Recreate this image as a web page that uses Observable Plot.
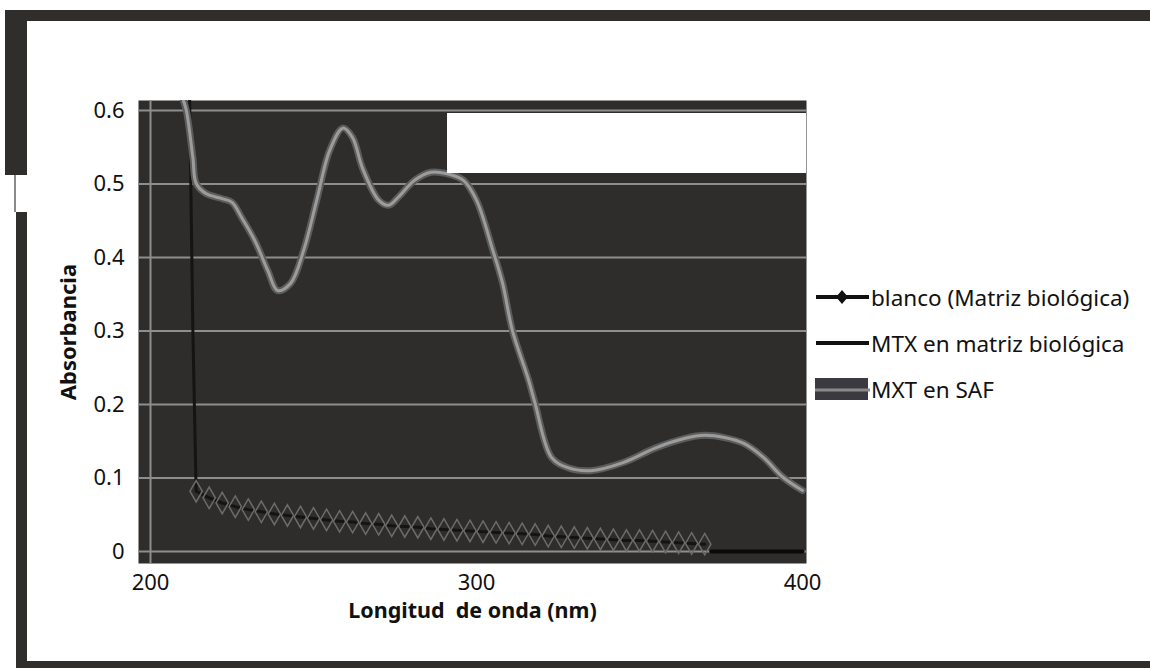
<!DOCTYPE html>
<html>
<head>
<meta charset="utf-8">
<script src="https://cdn.jsdelivr.net/npm/d3@7"></script>
<script src="https://cdn.jsdelivr.net/npm/@observablehq/plot@0.6"></script>
<style>
html, body { margin: 0; padding: 0; background: #fff; }
#wrap { position: relative; width: 1150px; height: 668px; overflow: hidden; font-family: "Noto Sans", sans-serif; }
.bd { position: absolute; background: #2f2e2d; }
#chart { position: absolute; left: 0; top: 0; }
#notch { position: absolute; left: 447px; top: 113px; width: 359px; height: 60px; background: #fff; }
#legend { position: absolute; left: 815px; top: 282px; font-size: 22.5px; color: #111; }
.lg { display: flex; align-items: center; height: 30px; margin-bottom: 16px; white-space: nowrap; }
.lg svg { display: block; margin-right: 1px; }
#chart g[aria-label="x-axis label"] text, #chart g[aria-label="y-axis label"] text { font-weight: bold; font-size: 21.5px; white-space: pre; }
#chart g[aria-label="y-axis label"] text { font-size: 22px; }
</style>
</head>
<body>
<div id="wrap">
  <div id="chart"></div>
  <div id="notch"></div>
  <div class="bd" style="left:5px;top:10px;width:1145px;height:11px;"></div>
  <div class="bd" style="left:5px;top:10px;width:22px;height:165px;"></div>
  <div style="position:absolute;left:14px;top:175px;width:2px;height:37px;background:#8a8a8a;"></div>
  <div class="bd" style="left:16px;top:212px;width:11px;height:456px;"></div>
  <div class="bd" style="left:16px;top:661px;width:1134px;height:7px;"></div>
  <div id="legend">
    <div class="lg"><svg width="55" height="20"><line x1="1" y1="10" x2="54" y2="10" stroke="#111" stroke-width="4"/><path d="M27 3 L33 10 L27 17 L21 10 Z" fill="#111"/></svg><span>blanco (Matriz biológica)</span></div>
    <div class="lg"><svg width="55" height="20"><line x1="1" y1="10" x2="54" y2="10" stroke="#111" stroke-width="4"/><rect x="22" y="8" width="10" height="4" fill="#111"/></svg><span>MTX en matriz biológica</span></div>
    <div class="lg"><svg width="55" height="22"><rect x="0" y="0" width="53" height="22" fill="#3a3a40"/><line x1="0" y1="12" x2="55" y2="12" stroke="#8a8a8a" stroke-width="3"/></svg><span>MXT en SAF</span></div>
  </div>
</div>
<script>
// X ticks and Y ticks
const xTicks = [200, 300, 400];
const yTicks = [0, 0.1, 0.2, 0.3, 0.4, 0.5, 0.6];
const yTickLabels = ["0", "0.1", "0.2", "0.3", "0.4", "0.5", "0.6"];

// MXT en SAF
const safWavelength = [210, 211, 213, 214, 217, 222, 225, 228, 232, 236, 239, 243, 247, 251, 255, 259, 262, 265, 270, 273, 276, 281, 286, 291, 296, 300, 305, 308, 311, 316, 318, 323, 328, 335, 345, 355, 364, 370, 376, 382, 388, 394, 400];
const safAbs = [0.615, 0.600, 0.536, 0.501, 0.487, 0.480, 0.475, 0.454, 0.423, 0.382, 0.355, 0.365, 0.410, 0.478, 0.546, 0.576, 0.563, 0.522, 0.478, 0.471, 0.482, 0.505, 0.516, 0.514, 0.505, 0.478, 0.410, 0.365, 0.301, 0.233, 0.201, 0.128, 0.114, 0.110, 0.121, 0.141, 0.154, 0.158, 0.155, 0.147, 0.128, 0.101, 0.083];

// blanco (Matriz biológica)
const blancoWavelength = [212, 213, 214, 218, 222, 226, 230, 234, 238, 242, 246, 250, 254, 258, 262, 266, 270, 274, 278, 282, 286, 290, 294, 298, 302, 306, 310, 314, 318, 322, 326, 330, 334, 338, 342, 346, 350, 354, 358, 362, 366, 370];
const blancoAbs = [0.615, 0.300, 0.082, 0.073, 0.066, 0.061, 0.057, 0.054, 0.051, 0.049, 0.047, 0.045, 0.043, 0.041, 0.040, 0.038, 0.037, 0.035, 0.034, 0.033, 0.031, 0.030, 0.029, 0.028, 0.027, 0.026, 0.025, 0.024, 0.023, 0.021, 0.020, 0.019, 0.018, 0.017, 0.016, 0.015, 0.015, 0.014, 0.013, 0.012, 0.011, 0.010];

// MTX en matriz biológica
const mtxWavelength = [372, 380, 390, 400];
const mtxAbs = [0, 0, 0, 0];

const saf = safWavelength.map((w, i) => ({w, a: safAbs[i]}));
const blanco = blancoWavelength.map((w, i) => ({w, a: blancoAbs[i]}));
const blancoMarkers = blanco.filter(d => d.a < 0.1);
const mtx = mtxWavelength.map((w, i) => ({w, a: mtxAbs[i]}));

const chart = Plot.plot({
  width: 1150,
  height: 668,
  marginLeft: 138,
  marginRight: 344,
  marginTop: 100,
  marginBottom: 105,
  insetLeft: 12,
  insetRight: 4,
  insetTop: 10,
  insetBottom: 12,
  style: {fontFamily: "'Noto Sans', sans-serif", fontSize: "22px", color: "#111", background: "transparent", overflow: "visible"},
  x: {domain: [200, 400], ticks: xTicks, tickSize: 0, tickPadding: 11, tickFormat: d => String(d), label: "Longitud  de onda (nm)", labelAnchor: "center", labelOffset: 54, labelArrow: "none"},
  y: {domain: [0, 0.6], ticks: yTicks, tickSize: 0, tickPadding: 14, tickFormat: (d, i) => yTickLabels[i], label: "Absorbancia", labelAnchor: "center", labelOffset: 78, labelArrow: "none"},
  marks: [
    Plot.frame({fill: "#2f2d2b", stroke: null}),
    Plot.ruleY(yTicks, {stroke: "#8e8e8e", strokeWidth: 2}),
    Plot.ruleX([200], {stroke: "#8e8e8e", strokeWidth: 2}),
    Plot.line(blanco, {x: "w", y: "a", stroke: "#141414", strokeWidth: 3, clip: true}),
    Plot.dot(blancoMarkers, {x: "w", y: "a", symbol: "diamond", r: 6.5, stroke: "#6c6c6c", strokeWidth: 1.5, fill: "none"}),
    Plot.line(mtx, {x: "w", y: "a", stroke: "#0a0a0a", strokeWidth: 4}),
    Plot.line(saf, {x: "w", y: "a", stroke: "#5c5c5c", strokeWidth: 7, curve: "catmull-rom", clip: true}),
    Plot.line(saf, {x: "w", y: "a", stroke: "#9c9c9c", strokeWidth: 3, curve: "catmull-rom", clip: true})
  ]
});
document.getElementById("chart").appendChild(chart);
</script>
</body>
</html>
